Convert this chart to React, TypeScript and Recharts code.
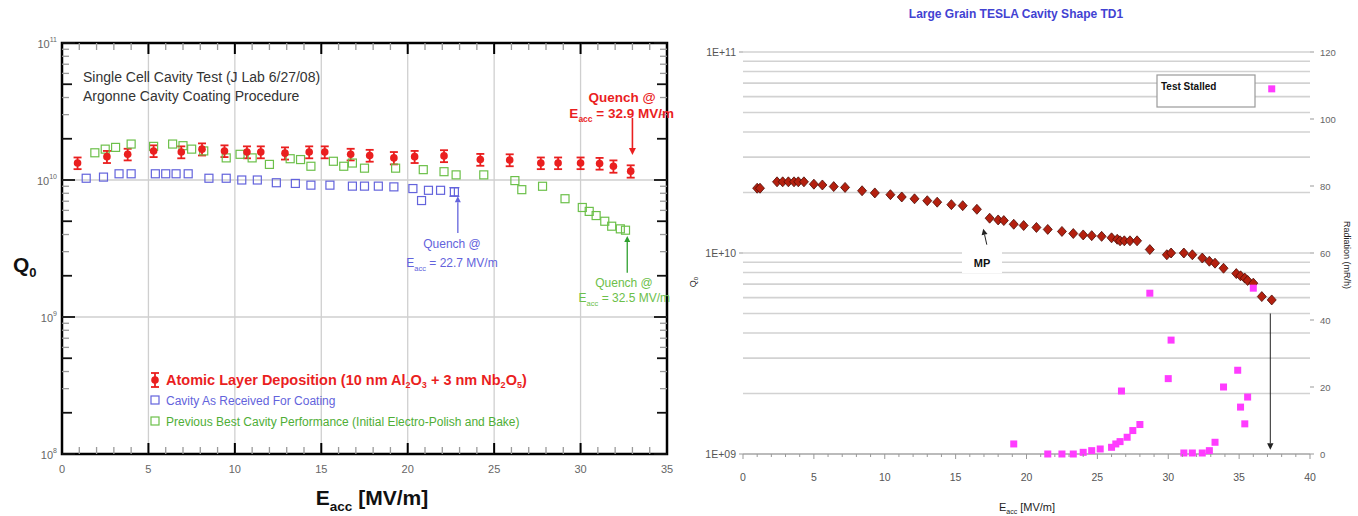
import React from "react";
import {
  ScatterChart,
  Scatter,
  XAxis,
  YAxis,
  ErrorBar,
  ReferenceLine,
  ReferenceArea,
  CartesianGrid,
} from "recharts";

const FONT = "'Liberation Sans', Arial, sans-serif";

// ---- left panel: single cell test, Q0 vs Eacc ----
const aldE = [0.9, 2.6, 3.8, 5.3, 6.9, 8.1, 9.4, 10.7, 11.5, 12.9, 14.3, 15.2, 16.7, 17.8, 19.2, 20.4, 22.1, 24.2, 25.9, 27.7, 28.7, 30.0, 31.1, 31.9, 32.9];
const aldQ = [1.33e10, 1.48e10, 1.54e10, 1.63e10, 1.6e10, 1.68e10, 1.63e10, 1.6e10, 1.6e10, 1.57e10, 1.6e10, 1.6e10, 1.54e10, 1.51e10, 1.45e10, 1.48e10, 1.5e10, 1.41e10, 1.4e10, 1.33e10, 1.33e10, 1.33e10, 1.32e10, 1.26e10, 1.16e10];
const aldErr = [1.3e9, 1.5e9, 1.5e9, 1.6e9, 1.6e9, 1.7e9, 1.6e9, 1.6e9, 1.6e9, 1.6e9, 1.6e9, 1.6e9, 1.5e9, 1.5e9, 1.5e9, 1.5e9, 1.5e9, 1.4e9, 1.4e9, 1.3e9, 1.3e9, 1.3e9, 1.3e9, 1.3e9, 1.2e9];

const asRecE = [1.4, 2.4, 3.3, 4.0, 5.4, 6.0, 6.6, 7.3, 8.5, 9.5, 10.4, 11.3, 12.4, 13.5, 14.4, 15.5, 16.8, 17.5, 18.3, 19.2, 20.3, 20.8, 21.2, 21.9];
const asRecQ = [1.03e10, 1.05e10, 1.11e10, 1.11e10, 1.11e10, 1.11e10, 1.11e10, 1.11e10, 1.03e10, 1.03e10, 1.0e10, 1.0e10, 9.55e9, 9.44e9, 9.17e9, 9.17e9, 9.02e9, 9.02e9, 9.02e9, 8.91e9, 8.66e9, 7.08e9, 8.41e9, 8.41e9];
const asRecQuenchE = [22.7];
const asRecQuenchQ = [8.2e9];
const asRecQuenchErr = [6e8];

const bestE = [1.9, 2.5, 3.1, 4.0, 5.3, 6.4, 7.0, 7.5, 8.2, 9.5, 10.3, 11.0, 12.0, 13.2, 13.8, 14.4, 15.7, 16.3, 16.8, 17.5, 19.3, 20.9, 22.1, 22.8, 24.4, 26.2, 26.6, 27.8, 29.1, 30.1, 30.5, 30.9, 31.4, 31.8, 32.3, 32.6];
const bestQ = [1.58e10, 1.68e10, 1.73e10, 1.83e10, 1.76e10, 1.83e10, 1.78e10, 1.68e10, 1.63e10, 1.45e10, 1.54e10, 1.45e10, 1.3e10, 1.43e10, 1.41e10, 1.26e10, 1.37e10, 1.26e10, 1.33e10, 1.22e10, 1.22e10, 1.19e10, 1.15e10, 1.09e10, 1.09e10, 9.9e9, 8.5e9, 9.0e9, 7.3e9, 6.3e9, 5.9e9, 5.5e9, 5.0e9, 4.6e9, 4.4e9, 4.3e9];

const leftXTicks = Array.from({ length: 36 }, (_, i) => i);
const leftXGrid = [5, 10, 15, 20, 25, 30];
const leftYGrid = [1e9, 1e10];
const leftDecades = [1e8, 1e9, 1e10, 1e11];

// ---- right panel: large grain TESLA cavity TD1 ----
const tdE = [1.0, 1.2, 2.4, 2.8, 3.2, 3.6, 3.9, 4.3, 5.0, 5.6, 6.4, 7.2, 8.4, 9.3, 10.4, 11.2, 12.1, 13.0, 13.7, 14.7, 15.5, 16.5, 17.4, 18.0, 18.4, 19.1, 19.8, 20.7, 21.5, 22.5, 23.3, 24.0, 24.6, 25.3, 26.0, 26.4, 26.6, 26.9, 27.3, 27.8, 28.7, 29.9, 30.2, 31.1, 31.7, 32.4, 32.9, 33.3, 33.9, 34.8, 35.1, 35.4, 35.6, 36.0, 36.6, 37.3];
const tdQ = [2.1e10, 2.1e10, 2.26e10, 2.26e10, 2.26e10, 2.26e10, 2.26e10, 2.26e10, 2.2e10, 2.18e10, 2.14e10, 2.12e10, 2.04e10, 1.99e10, 1.95e10, 1.9e10, 1.86e10, 1.82e10, 1.79e10, 1.74e10, 1.72e10, 1.65e10, 1.49e10, 1.46e10, 1.45e10, 1.39e10, 1.37e10, 1.34e10, 1.31e10, 1.28e10, 1.25e10, 1.23e10, 1.22e10, 1.21e10, 1.19e10, 1.17e10, 1.15e10, 1.15e10, 1.15e10, 1.15e10, 1.04e10, 9.8e9, 1.0e10, 1.0e10, 9.8e9, 9.44e9, 9.1e9, 8.9e9, 8.4e9, 7.9e9, 7.7e9, 7.5e9, 7.3e9, 7.08e9, 6.07e9, 5.84e9];

const radE = [19.1, 21.5, 22.5, 23.3, 24.0, 24.6, 25.2, 26.0, 26.3, 26.6, 26.7, 27.1, 27.5, 28.0, 28.7, 30.0, 30.2, 31.1, 31.7, 32.4, 32.9, 33.3, 33.9, 34.9, 35.1, 35.4, 35.6, 36.0, 37.3];
const radR = [3, 0, 0, 0, 0.5, 1, 1.5, 2, 3, 3.7, 18.8, 5, 7, 8.8, 48, 22.5, 34, 0.3, 0.3, 0.3, 1, 3.5, 20, 25, 14, 9, 17, 49.5, 109];

const rightXTicks = Array.from({ length: 41 }, (_, i) => i);
const rightRadTicks = [0, 20, 40, 60, 80, 100, 120];
const rightDecadeLabels: Record<number, string> = { 1e9: "1E+09", 1e10: "1E+10", 1e11: "1E+11" };

function logTicks(from: number, to: number) {
  const out: number[] = [];
  for (let d = from; d < to; d *= 10) for (let m = 1; m < 10; m++) out.push(m * d);
  out.push(to);
  return out;
}

const leftYTicks = logTicks(1e8, 1e11);
const rightYTicks = logTicks(1e9, 1e11);

const aldData = aldE.map((e, i) => ({ e, q: aldQ[i], err: aldErr[i] }));
const asRecData = asRecE.map((e, i) => ({ e, q: asRecQ[i] }));
const asRecQuenchData = asRecQuenchE.map((e, i) => ({ e, q: asRecQuenchQ[i], err: asRecQuenchErr[i] }));
const bestData = bestE.map((e, i) => ({ e, q: bestQ[i] }));
const tdData = tdE.map((e, i) => ({ e, q: tdQ[i] }));
const radData = radE.map((e, i) => ({ e, r: radR[i] }));

const RED = "#ea1f1f";
const BLUE = "#6363dc";
const GREEN = "#6cc04a";

// left panel layout
const L_W = 690;
const L_H = 516;
const L_TOP = 43;
const L_RIGHT = 667;

const isMajorLog = (v: number) => Math.abs(Math.log10(v) - Math.round(Math.log10(v))) < 1e-6;
const mant = (v: number) => Math.round(v / Math.pow(10, Math.floor(Math.log10(v) + 1e-9)));

const LeftXTick = (p: any) => {
  const v = p.payload.value;
  const major = v % 5 === 0;
  const len = major ? 11 : 7;
  const st = major ? "#000" : "#9a9a9a";
  const sw = major ? 2 : 1.3;
  return (
    <g>
      <line x1={p.x} x2={p.x} y1={p.y} y2={p.y - len} stroke={st} strokeWidth={sw} />
      <line x1={p.x} x2={p.x} y1={L_TOP} y2={L_TOP + len} stroke={st} strokeWidth={sw} />
      {major && (
        <text x={p.x} y={p.y + 19} textAnchor="middle" fontSize={11} fill="#666" fontFamily={FONT}>
          {v}
        </text>
      )}
    </g>
  );
};

const LeftYTick = (p: any) => {
  const v = p.payload.value;
  const major = isMajorLog(v);
  const m = mant(v);
  const mid = m === 2 || m === 5;
  const len = major ? 13 : mid ? 10 : 7;
  const st = major || mid ? "#111" : "#9a9a9a";
  const sw = major || mid ? 1.8 : 1.3;
  const exp = Math.round(Math.log10(v));
  return (
    <g>
      <line x1={p.x} x2={p.x + len} y1={p.y} y2={p.y} stroke={st} strokeWidth={sw} />
      <line x1={L_RIGHT} x2={L_RIGHT - len} y1={p.y} y2={p.y} stroke={st} strokeWidth={sw} />
      {major && (
        <text x={p.x - 5} y={p.y + 5} textAnchor="end" fontSize={11} fill="#666" fontFamily={FONT}>
          10
          <tspan dy={-6} fontSize={7}>
            {exp}
          </tspan>
        </text>
      )}
    </g>
  );
};

const redDot = (p: any) => <circle cx={p.cx} cy={p.cy} r={3.8} fill={RED} />;
const hollowSquare = (color: string) => (p: any) =>
  <rect x={p.cx - 4} y={p.cy - 4} width={8} height={8} fill="none" stroke={color} strokeWidth={1.2} />;

const arrowShape = (color: string, w: number, head: number) => (p: any) => {
  const { x1, y1, x2, y2 } = p;
  if (x1 == null || y1 == null) return <g />;
  const dx = x2 - x1;
  const dy = y2 - y1;
  const L = Math.sqrt(dx * dx + dy * dy) || 1;
  const ux = dx / L;
  const uy = dy / L;
  const bx = x2 - ux * head * 2;
  const by = y2 - uy * head * 2;
  return (
    <g>
      <line x1={x1} y1={y1} x2={bx} y2={by} stroke={color} strokeWidth={w} />
      <polygon
        points={`${x2},${y2} ${bx - uy * head},${by + ux * head} ${bx + uy * head},${by - ux * head}`}
        fill={color}
      />
    </g>
  );
};

function LeftChart() {
  return (
    <ScatterChart width={L_W} height={L_H} margin={{ top: L_TOP, right: L_W - L_RIGHT, bottom: 22, left: 12 }}>
      <XAxis
        type="number"
        dataKey="e"
        domain={[0, 35]}
        ticks={leftXTicks}
        interval={0}
        tickSize={0}
        tickMargin={0}
        tick={LeftXTick}
        axisLine={false}
        height={40}
      />
      <YAxis
        type="number"
        dataKey="q"
        scale="log"
        domain={[1e8, 1e11]}
        allowDataOverflow
        ticks={leftYTicks}
        interval={0}
        tickSize={0}
        tickMargin={0}
        tick={LeftYTick}
        axisLine={false}
        width={50}
      />
      {leftXGrid.map((x) => (
        <ReferenceLine key={"gx" + x} x={x} stroke="#cfcfcf" strokeWidth={1.3} />
      ))}
      {leftYGrid.map((y) => (
        <ReferenceLine key={"gy" + y} y={y} stroke="#cfcfcf" strokeWidth={1.3} />
      ))}
      <ReferenceArea x1={0} x2={35} y1={leftDecades[0]} y2={leftDecades[3]} fill="none" stroke="#000" strokeWidth={2.5} />
      <Scatter data={bestData} shape={hollowSquare(GREEN)} isAnimationActive={false} />
      <Scatter data={asRecData} shape={hollowSquare(BLUE)} isAnimationActive={false} />
      <Scatter data={asRecQuenchData} shape={hollowSquare(BLUE)} isAnimationActive={false}>
        <ErrorBar dataKey="err" direction="y" width={5} stroke={BLUE} strokeWidth={1.2} />
      </Scatter>
      <Scatter data={aldData} shape={redDot} isAnimationActive={false}>
        <ErrorBar dataKey="err" direction="y" width={4} stroke={RED} strokeWidth={1.8} />
      </Scatter>
      <ReferenceLine segment={[{ x: 33.0, y: 2.84e10 }, { x: 33.0, y: 1.52e10 }]} shape={arrowShape(RED, 1.6, 3.5)} />
      <ReferenceLine segment={[{ x: 22.9, y: 4.1e9 }, { x: 22.9, y: 7.6e9 }]} shape={arrowShape(BLUE, 1.3, 3)} />
      <ReferenceLine segment={[{ x: 32.7, y: 2.1e9 }, { x: 32.7, y: 3.9e9 }]} shape={arrowShape("#2fa02f", 1.3, 3)} />
    </ScatterChart>
  );
}

// right panel layout
const R_W = 678;
const R_H = 516;

const RightXTick = (p: any) => {
  const v = p.payload.value;
  const major = v % 5 === 0;
  return (
    <g>
      <line x1={p.x} x2={p.x} y1={p.y} y2={p.y + (major ? 5 : 3)} stroke="#999" strokeWidth={1} />
      {major && (
        <text x={p.x} y={p.y + 27} textAnchor="middle" fontSize={10.5} fill="#555" fontFamily={FONT}>
          {v}
        </text>
      )}
    </g>
  );
};

const RightQTick = (p: any) => {
  const v = p.payload.value;
  const label = rightDecadeLabels[v as keyof typeof rightDecadeLabels];
  if (!label) return <g />;
  return (
    <g>
      <line x1={p.x - 4} x2={p.x} y1={p.y} y2={p.y} stroke="#999" strokeWidth={1} />
      <text x={p.x - 7} y={p.y + 4} textAnchor="end" fontSize={10.5} fill="#555" fontFamily={FONT}>
        {label}
      </text>
    </g>
  );
};

const RightRadTick = (p: any) => (
  <g>
    <line x1={p.x} x2={p.x + 4} y1={p.y} y2={p.y} stroke="#999" strokeWidth={1} />
    <text x={p.x + 10} y={p.y + 4} textAnchor="start" fontSize={9.5} fill="#666" fontFamily={FONT}>
      {p.payload.value}
    </text>
  </g>
);

const diamond = (p: any) => (
  <polygon
    points={`${p.cx},${p.cy - 5} ${p.cx + 4.5},${p.cy} ${p.cx},${p.cy + 5} ${p.cx - 4.5},${p.cy}`}
    fill="#b4200f"
    stroke="#4c0d06"
    strokeWidth={0.8}
  />
);
const magentaSquare = (p: any) => <rect x={p.cx - 3.5} y={p.cy - 3.5} width={7} height={7} fill="#ff3cff" />;

function RightChart() {
  return (
    <ScatterChart width={R_W} height={R_H} margin={{ top: 52, right: 8, bottom: 22, left: 13 }}>
      <CartesianGrid yAxisId="q" vertical={false} stroke="#d2d2d2" strokeWidth={1.6} />
      <XAxis
        type="number"
        dataKey="e"
        domain={[0, 40]}
        ticks={rightXTicks}
        interval={0}
        tickSize={0}
        tickMargin={0}
        tick={RightXTick}
        axisLine={{ stroke: "#999", strokeWidth: 1 }}
        height={40}
      />
      <YAxis
        yAxisId="q"
        type="number"
        dataKey="q"
        scale="log"
        domain={[1e9, 1e11]}
        allowDataOverflow
        ticks={rightYTicks}
        interval={0}
        tickSize={0}
        tickMargin={0}
        tick={RightQTick}
        axisLine={false}
        width={50}
      />
      <YAxis
        yAxisId="rad"
        orientation="right"
        type="number"
        dataKey="r"
        domain={[0, 120]}
        ticks={rightRadTicks}
        interval={0}
        tickSize={0}
        tickMargin={0}
        tick={RightRadTick}
        axisLine={false}
        width={40}
      />
      <ReferenceLine
        yAxisId="q"
        segment={[{ x: 17.2, y: 1.1e10 }, { x: 16.95, y: 1.32e10 }]}
        shape={arrowShape("#222", 1, 3)}
      />
      <ReferenceLine
        yAxisId="q"
        segment={[{ x: 37.2, y: 5.0e9 }, { x: 37.2, y: 1.05e9 }]}
        shape={arrowShape("#222", 1, 3.2)}
      />
      <Scatter yAxisId="q" data={tdData} shape={diamond} isAnimationActive={false} />
      <Scatter yAxisId="rad" data={radData} shape={magentaSquare} isAnimationActive={false} />
    </ScatterChart>
  );
}

function Eacc({ size, sub }: { size: number; sub: number }) {
  return (
    <>
      E
      <tspan dy={size * 0.3} fontSize={sub}>
        acc
      </tspan>
      <tspan dy={-size * 0.3}> </tspan>
    </>
  );
}

function Overlay() {
  return (
    <svg width={1358} height={516} style={{ position: "absolute", left: 0, top: 0, pointerEvents: "none" }} fontFamily={FONT}>
      {/* left panel texts */}
      <text x={83} y={82} fontSize={14} fill="#333">Single Cell Cavity Test (J Lab 6/27/08)</text>
      <text x={83} y={101} fontSize={14} fill="#333">Argonne Cavity Coating Procedure</text>

      <text x={622} y={102} fontSize={13.5} fontWeight="bold" fill={RED} textAnchor="middle">Quench @</text>
      <text x={674} y={118} fontSize={13.5} fontWeight="bold" fill={RED} textAnchor="end">
        <Eacc size={13.5} sub={8.5} />= 32.9 MV/m
      </text>

      <text x={452} y={248} fontSize={12} fill={BLUE} textAnchor="middle">Quench @</text>
      <text x={452} y={267} fontSize={12} fill={BLUE} textAnchor="middle">
        <Eacc size={12} sub={7.5} />= 22.7 MV/m
      </text>

      <text x={624} y={287} fontSize={12} fill={GREEN} textAnchor="middle">Quench @</text>
      <text x={670} y={302} fontSize={12} fill={GREEN} textAnchor="end">
        <Eacc size={12} sub={7.5} />= 32.5 MV/m
      </text>

      {/* legend */}
      <line x1={155} x2={155} y1={373} y2={387} stroke={RED} strokeWidth={1.8} />
      <line x1={151} x2={159} y1={373} y2={373} stroke={RED} strokeWidth={1.8} />
      <line x1={151} x2={159} y1={387} y2={387} stroke={RED} strokeWidth={1.8} />
      <circle cx={155} cy={380} r={3.8} fill={RED} />
      <text x={166} y={385} fontSize={14.5} fontWeight="bold" fill={RED}>
        Atomic Layer Deposition (10 nm Al
        <tspan dy={3} fontSize={9}>2</tspan>
        <tspan dy={-3}>O</tspan>
        <tspan dy={3} fontSize={9}>3</tspan>
        <tspan dy={-3}> + 3 nm Nb</tspan>
        <tspan dy={3} fontSize={9}>2</tspan>
        <tspan dy={-3}>O</tspan>
        <tspan dy={3} fontSize={9}>5</tspan>
        <tspan dy={-3}>)</tspan>
      </text>
      <rect x={151} y={396} width={8} height={8} fill="none" stroke={BLUE} strokeWidth={1.2} />
      <text x={166} y={405} fontSize={12} fill={BLUE}>Cavity As Received For Coating</text>
      <rect x={151} y={417} width={8} height={8} fill="none" stroke={GREEN} strokeWidth={1.2} />
      <text x={166} y={426} fontSize={12} fill="#4fae36">Previous Best Cavity Performance (Initial Electro-Polish and Bake)</text>

      <text x={13} y={272} fontSize={21} fontWeight="bold" fill="#111">
        Q<tspan dy={5} fontSize={13}>0</tspan>
      </text>
      <text x={372} y={505} fontSize={21} fontWeight="bold" fill="#111" textAnchor="middle">
        E<tspan dy={6} fontSize={13.5}>acc</tspan>
        <tspan dy={-6}> [MV/m]</tspan>
      </text>

      {/* right panel texts */}
      <text x={1016} y={18} fontSize={12} fontWeight="bold" fill="#4242d2" textAnchor="middle">
        Large Grain TESLA Cavity Shape TD1
      </text>
      <text x={0} y={0} fontSize={9} fill="#222" textAnchor="middle" transform="translate(696 282) rotate(-90)">
        Q<tspan dy={2} fontSize={6}>0</tspan>
      </text>
      <text x={0} y={0} fontSize={9} fill="#222" textAnchor="middle" transform="translate(1344 255) rotate(90)">
        Radiation (mR/h)
      </text>
      <text x={1027} y={511} fontSize={11} fill="#222" textAnchor="middle">
        E<tspan dy={3} fontSize={7}>acc</tspan>
        <tspan dy={-3}> [MV/m]</tspan>
      </text>
      <rect x={962} y={251} width={40} height={22} fill="#fff" />
      <text x={982} y={267} fontSize={11} fontWeight="bold" fill="#111" textAnchor="middle">MP</text>
      <rect x={1157} y={75} width={98} height={32} fill="#fff" stroke="#9a9a9a" strokeWidth={1.2} />
      <text x={1161} y={90} fontSize={10} fontWeight="bold" fill="#111">Test Stalled</text>
    </svg>
  );
}

export default function App() {
  return (
    <div style={{ position: "absolute", left: 0, top: 0, width: 1358, height: 516, background: "#fff", fontFamily: FONT }}>
      <div style={{ position: "absolute", left: 0, top: 0 }}>
        <LeftChart />
      </div>
      <div style={{ position: "absolute", left: 680, top: 0 }}>
        <RightChart />
      </div>
      <Overlay />
    </div>
  );
}
